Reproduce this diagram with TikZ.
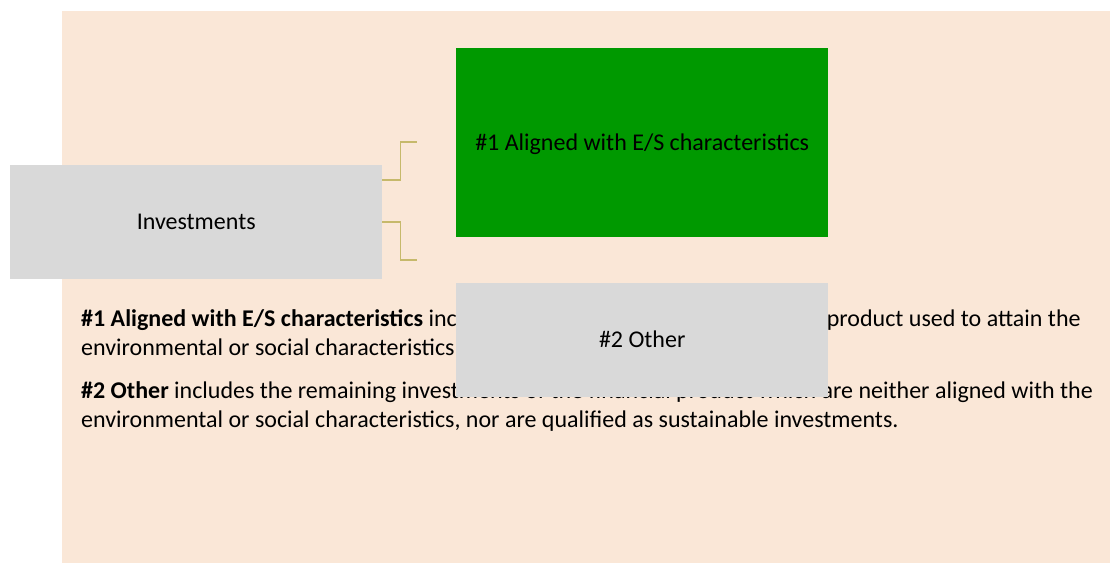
\documentclass[tikz,border=0pt]{standalone}
\usepackage{fontspec}
\setmainfont{Carlito}
\definecolor{peach}{HTML}{FAE7D7}
\definecolor{boxgray}{HTML}{D9D9D9}
\definecolor{esgreen}{HTML}{009900}
\definecolor{linkolive}{HTML}{C6B96B}
\begin{document}
\begin{tikzpicture}[x=1pt,y=-1pt,
  txt/.style={font=\fontsize{24}{29}\selectfont},
  panel/.style={txt, anchor=north west, inner sep=0pt, minimum width=372pt,
    text height=15.5pt, text depth=0pt, align=center},
  bodyline/.style={txt, anchor=base west, inner sep=0pt},
  conn/.style={draw=linkolive, line width=1.6pt}
]
\useasboundingbox (0,0) rectangle (1110,563);
% background panel
\fill[peach] (62,11) rectangle (1110,563);

% explanatory paragraphs
\node[bodyline] (p1a) at (81,326) {\textbf{\#1 Aligned with E/S characteristics} includes the investments of the financial product used to attain the};
\node[bodyline] (p1b) at (81,355) {environmental or social characteristics promoted by the financial product.};
\node[bodyline] (p2a) at (81,398) {\textbf{\#2 Other} includes the remaining investments of the financial product which are neither aligned with the};
\node[bodyline] (p2b) at (81,427) {environmental or social characteristics, nor are qualified as sustainable investments.};

% tree boxes
\node[panel, fill=boxgray, minimum height=113.7pt] (inv) at (10,165) {Investments};
\node[panel, fill=esgreen, minimum height=188.7pt] (aligned) at (456,48) {\#1 Aligned with E/S characteristics};
\node[panel, fill=boxgray, minimum height=113.7pt] (other) at (456,283) {\#2 Other};

% bracket connectors
\coordinate (c1) at (417,142);
\coordinate (c2) at (417,260);
\draw[conn] ([yshift=-15pt]inv.north east) -- ++(18,0) |- (c1);
\draw[conn] (inv.east) -- ++(18,0) |- (c2);
\end{tikzpicture}
\end{document}
